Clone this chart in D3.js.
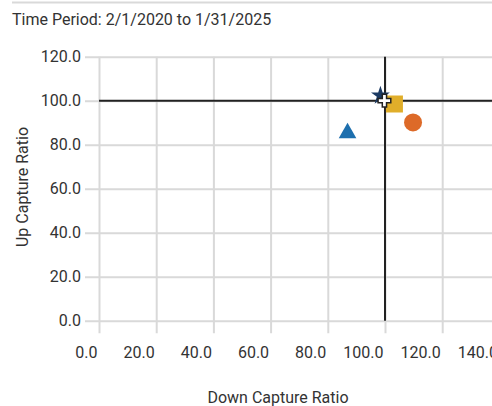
<!DOCTYPE html>
<html lang="en">
<head>
<meta charset="UTF-8">
<title>Up/Down Capture Ratio</title>
<script src="https://d3js.org/d3.v7.min.js"></script>
<style>
    body { margin: 0; background: #fff; }
    svg text { font-family: Roboto, "Liberation Sans", sans-serif; fill: #333; }
    .grid line { stroke: #d9d9d9; stroke-width: 2px; }
    .grid path { display: none; }
</style>
</head>
<body>
<svg width="492" height="406"></svg>
<script>
    // chart values
    const xTicks = [0, 20, 40, 60, 80, 100, 120, 140];
    const yTicks = [0, 20, 40, 60, 80, 100, 120];
    const names = ["Fund", "Category", "Index", "Benchmark", "Peer"];
    const shapes = ["triangle", "circle", "star", "square", "cross"];
    const colors = ["#1d6fae", "#dd6a28", "#1b3a63", "#e0ae2a", "#ffffff"];
    const downCapture = [86.9, 109.8, 98.4, 103.3, 99.8];
    const upCapture = [85.3, 90.1, 102.3, 98.5, 100.0];

    var svg = d3.select("svg");

    var xScale = d3.scaleLinear().domain([0, 140]).range([99, 499.4]),
        yScale = d3.scaleLinear().domain([0, 120]).range([320.7, 56.7]);

    // top rule + time period
    svg.append("line")
        .attr("x1", 12).attr("x2", 492).attr("y1", 2.5).attr("y2", 2.5)
        .attr("stroke", "#d9d9d9").attr("stroke-width", 2);

    svg.append("text")
        .attr("x", 12).attr("y", 25)
        .style("font-size", "16px")
        .text("Time Period: 2/1/2020 to 1/31/2025");

    // y grid + labels
    var gy = svg.append("g")
        .attr("class", "grid")
        .attr("transform", "translate(99,0)")
        .call(d3.axisLeft(yScale).tickValues(yTicks).tickFormat(d3.format(".1f")).tickSize(0));
    gy.selectAll(".tick line").attr("x1", -14).attr("x2", 393);
    gy.selectAll(".tick text").attr("x", -18).style("font-size", "16px");

    // x grid + labels
    var gx = svg.append("g")
        .attr("class", "grid")
        .attr("transform", "translate(0,320.7)")
        .call(d3.axisBottom(xScale).tickValues(xTicks).tickFormat(d3.format(".1f")).tickSize(0));
    gx.selectAll(".tick line").attr("y1", -264).attr("y2", 12.5);
    gx.selectAll(".tick text")
        .attr("text-anchor", "end")
        .attr("x", -2).attr("y", 37).attr("dy", 0)
        .style("font-size", "16px");

    // crosshair at 100/100
    svg.append("line")
        .attr("x1", xScale(0)).attr("x2", 492)
        .attr("y1", yScale(100)).attr("y2", yScale(100))
        .attr("stroke", "#222").attr("stroke-width", 2);
    svg.append("line")
        .attr("x1", xScale(100)).attr("x2", xScale(100))
        .attr("y1", yScale(120)).attr("y2", yScale(0))
        .attr("stroke", "#222").attr("stroke-width", 2);

    // axis titles
    svg.append("text")
        .attr("transform", "translate(28,187) rotate(-90)")
        .attr("text-anchor", "middle")
        .style("font-size", "16px")
        .text("Up Capture Ratio");

    svg.append("text")
        .attr("x", 278).attr("y", 403)
        .attr("text-anchor", "middle")
        .style("font-size", "16px")
        .text("Down Capture Ratio");

    // markers
    const symbolTypes = {
        triangle: [d3.symbolTriangle, 135],
        circle: [d3.symbolCircle, 254],
        star: [d3.symbolStar, 110],
        square: [d3.symbolSquare, 289],
        cross: [d3.symbolCross, 90]
    };

    svg.selectAll(".pt")
        .data(names)
        .enter().append("path")
        .attr("class", "pt")
        .attr("transform", (d, i) => "translate(" + xScale(downCapture[i]) + "," + yScale(upCapture[i]) + ")")
        .attr("d", (d, i) => d3.symbol().type(symbolTypes[shapes[i]][0]).size(symbolTypes[shapes[i]][1])())
        .attr("fill", (d, i) => colors[i])
        .attr("stroke", (d, i) => shapes[i] === "cross" ? "#222" : "none")
        .attr("stroke-width", 1.5);
</script>
</body>
</html>
